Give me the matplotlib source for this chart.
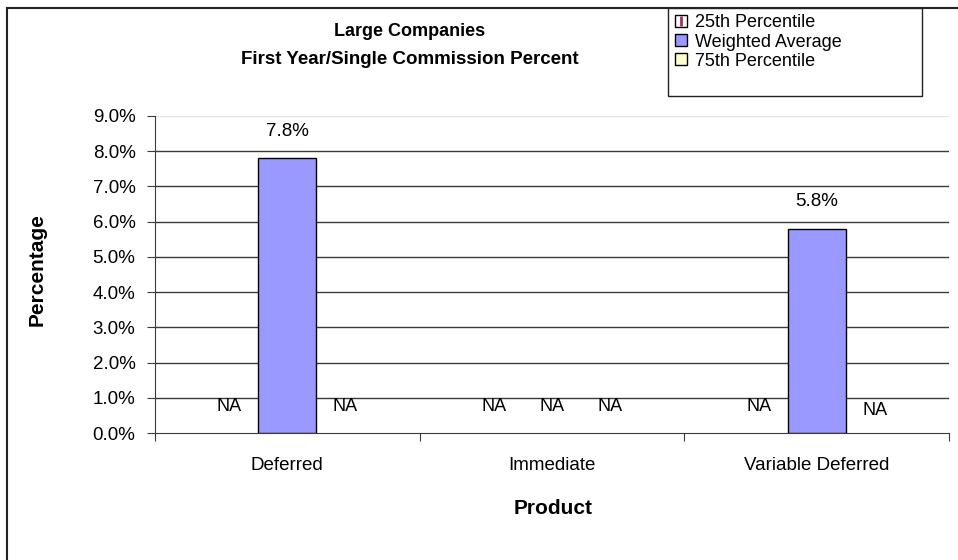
import numpy as np
import matplotlib
matplotlib.use("Agg")
import matplotlib.pyplot as plt
from matplotlib.lines import Line2D
from matplotlib.patches import Rectangle

plt.rcParams['font.family'] = ['Liberation Sans', 'DejaVu Sans']

categories = ['Deferred', 'Immediate', 'Variable Deferred']
series_names = ['25th Percentile', 'Weighted Average', '75th Percentile']
p25 = [np.nan, np.nan, np.nan]
wavg = [7.8, np.nan, 5.8]
p75 = [np.nan, np.nan, np.nan]
yticks = [0, 1, 2, 3, 4, 5, 6, 7, 8, 9]

colors = ['#993366', '#9999FF', '#FFFFCC']

fig = plt.figure(figsize=(9.58, 5.60), dpi=100)
ax = fig.add_axes([155/958, 1-433/560, (949-155)/958, (433-116)/560])

x = np.arange(len(categories))
w = 0.219
all_series = [p25, wavg, p75]
na_offsets = [[0.75, 0.75, 0.75], [0.75, 0.75, 0.88], [0.75, 0.75, 0.65]]
for i, vals in enumerate(all_series):
    pos = x + (i - 1) * w
    v = np.array(vals, dtype=float)
    if not np.all(np.isnan(v)):
        bars = ax.bar(pos, np.nan_to_num(v), width=w, color=colors[i],
                      edgecolor='black', linewidth=1.0, zorder=3)
        for b, val in zip(bars, v):
            if np.isnan(val):
                b.set_visible(False)
    for j, (p, val) in enumerate(zip(pos, v)):
        if np.isnan(val):
            ax.text(p, na_offsets[i][j], 'NA', ha='center', va='center',
                    fontsize=13, zorder=4)
        else:
            ax.annotate(f'{val:.1f}%', (p, val), xytext=(0, 27),
                        textcoords='offset pixels', ha='center', va='center',
                        fontsize=13.5, zorder=4)

ax.set_xlim(-0.5, 2.5)
ax.set_ylim(0, 9)
ax.set_yticks(yticks)
ax.set_yticklabels([f'{t:.1f}%' for t in yticks], fontsize=13.5)
for t in yticks[1:-1]:
    ax.axhline(t, color='#3a3a3a', linewidth=1.0, zorder=1)
ax.axhline(9, color='#e6e6e6', linewidth=1.0, zorder=1)

ax.set_xticks([-0.5, 0.5, 1.5, 2.5])
ax.set_xticklabels([])
ax.tick_params(axis='x', length=6, direction='out', color='#3a3a3a')
ax.tick_params(axis='y', length=6, direction='out', color='#3a3a3a', pad=8)
for i, c in enumerate(categories):
    ax.text(x[i], -0.91, c, ha='center', va='center', fontsize=13.5)

for s in ['top', 'right']:
    ax.spines[s].set_visible(False)
ax.spines['left'].set_color('#3a3a3a')
ax.spines['bottom'].set_color('#3a3a3a')

fig.text(37/958, 1-270/560, 'Percentage', rotation=90, ha='center', va='center',
         fontsize=15, fontweight='bold')
fig.text(553/958, 1-508/560, 'Product', ha='center', va='center',
         fontsize=15, fontweight='bold')
fig.text(410/958, 1-31/560, 'Large Companies', ha='center', va='center',
         fontsize=13, fontweight='bold')
fig.text(410/958, 1-59/560, 'First Year/Single Commission Percent', ha='center',
         va='center', fontsize=13.5, fontweight='bold')

# outer border (top and left visible)
fig.add_artist(Line2D([7/958, 7/958], [0, 1-8/560], transform=fig.transFigure,
                      color='#222222', linewidth=1.5))
fig.add_artist(Line2D([7/958, 1], [1-8/560, 1-8/560], transform=fig.transFigure,
                      color='#222222', linewidth=1.5))

# legend box
fig.add_artist(Rectangle((668/958, 1-96/560), (922-668)/958, (96-8)/560,
                         transform=fig.transFigure, facecolor='white',
                         edgecolor='#222222', linewidth=1.0, zorder=5))

# legend
h25 = (Line2D([], [], marker='s', markersize=8.5, markerfacecolor='white',
              markeredgecolor='black', linestyle='none', markeredgewidth=1.0),
       Line2D([], [], marker='|', markersize=7.5, markeredgecolor=colors[0],
              linestyle='none', markeredgewidth=2.0))
hw = Line2D([], [], marker='s', markersize=8.5, markerfacecolor=colors[1],
            markeredgecolor='black', linestyle='none', markeredgewidth=1.0)
h75 = Line2D([], [], marker='s', markersize=8.5, markerfacecolor=colors[2],
             markeredgecolor='black', linestyle='none', markeredgewidth=1.0)
leg = fig.legend([h25, hw, h75], series_names, loc='upper left',
                 bbox_to_anchor=(668/958, 1-9/560),
                 fontsize=13, frameon=False,
                 handlelength=0.8, handletextpad=0.4, labelspacing=0.12,
                 borderpad=0.3, borderaxespad=0)
leg.set_zorder(6)

fig.savefig('out.png', dpi=100)
